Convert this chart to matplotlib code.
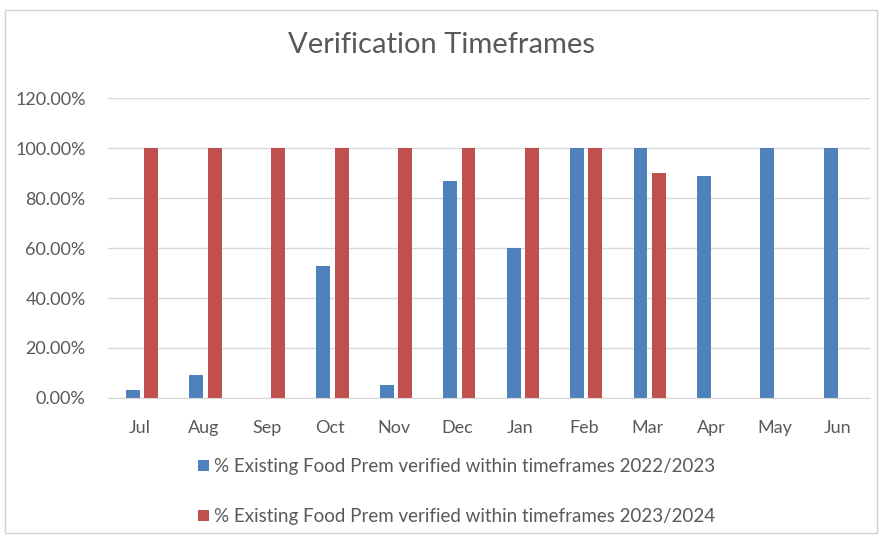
import numpy as np
import matplotlib.pyplot as plt
from matplotlib.patches import Rectangle

months = ["Jul", "Aug", "Sep", "Oct", "Nov", "Dec", "Jan", "Feb", "Mar", "Apr", "May", "Jun"]
# % verified, 2022/2023 and 2023/2024 (0 = no bar)
y2223 = [3.2, 9.2, 0, 52.8, 5.2, 86.8, 60.0, 100, 100, 89.0, 100, 100]
y2324 = [100, 100, 100, 100, 100, 100, 100, 100, 90.0, 0, 0, 0]
labels = ["% Existing Food Prem verified within timeframes 2022/2023",
          "% Existing Food Prem verified within timeframes 2023/2024"]

blue = "#4F81BD"
red = "#C0504D"
grey = "#595959"

plt.rcParams["font.family"] = ["Lato", "DejaVu Sans"]

fig = plt.figure(figsize=(8.82, 5.36), dpi=100)
ax = fig.add_axes([0.1224, 0.2575, 0.8636, 0.5595])

x = np.arange(len(months))
w = 0.22
ax.bar(x - 0.11, y2223, w, color=blue, label=labels[0], zorder=2)
ax.bar(x + 0.18, y2324, w, color=red, label=labels[1], zorder=2)

ax.set_xlim(-0.5, len(months) - 0.5)
ax.set_ylim(0, 120)
ax.set_yticks(np.arange(0, 121, 20))
ax.set_yticklabels(["%.2f%%" % v for v in np.arange(0, 121, 20)])
ax.set_xticks(x)
ax.set_xticklabels(months)
ax.tick_params(axis="both", length=0, labelsize=13, colors=grey)
ax.tick_params(axis="x", pad=16)
ax.tick_params(axis="y", pad=16)
ax.grid(axis="y", color="#D9D9D9", linewidth=1, zorder=0)
for s in ["top", "right", "left"]:
    ax.spines[s].set_visible(False)
ax.spines["bottom"].set_color("#D9D9D9")

fig.suptitle("Verification Timeframes", y=0.94, fontsize=21, color=grey)

ax.legend(loc="upper center", bbox_to_anchor=(0.458, -0.145), ncol=1, frameon=False,
          fontsize=13.5, labelcolor=grey, handlelength=0.55, handleheight=0.55,
          handletextpad=0.3, labelspacing=1.75)

fig.patches.append(Rectangle((0.006, 0.006), 0.988, 0.975, transform=fig.transFigure,
                             fill=False, edgecolor="#D0D0D0", linewidth=1))

fig.savefig("out.png", dpi=100)
